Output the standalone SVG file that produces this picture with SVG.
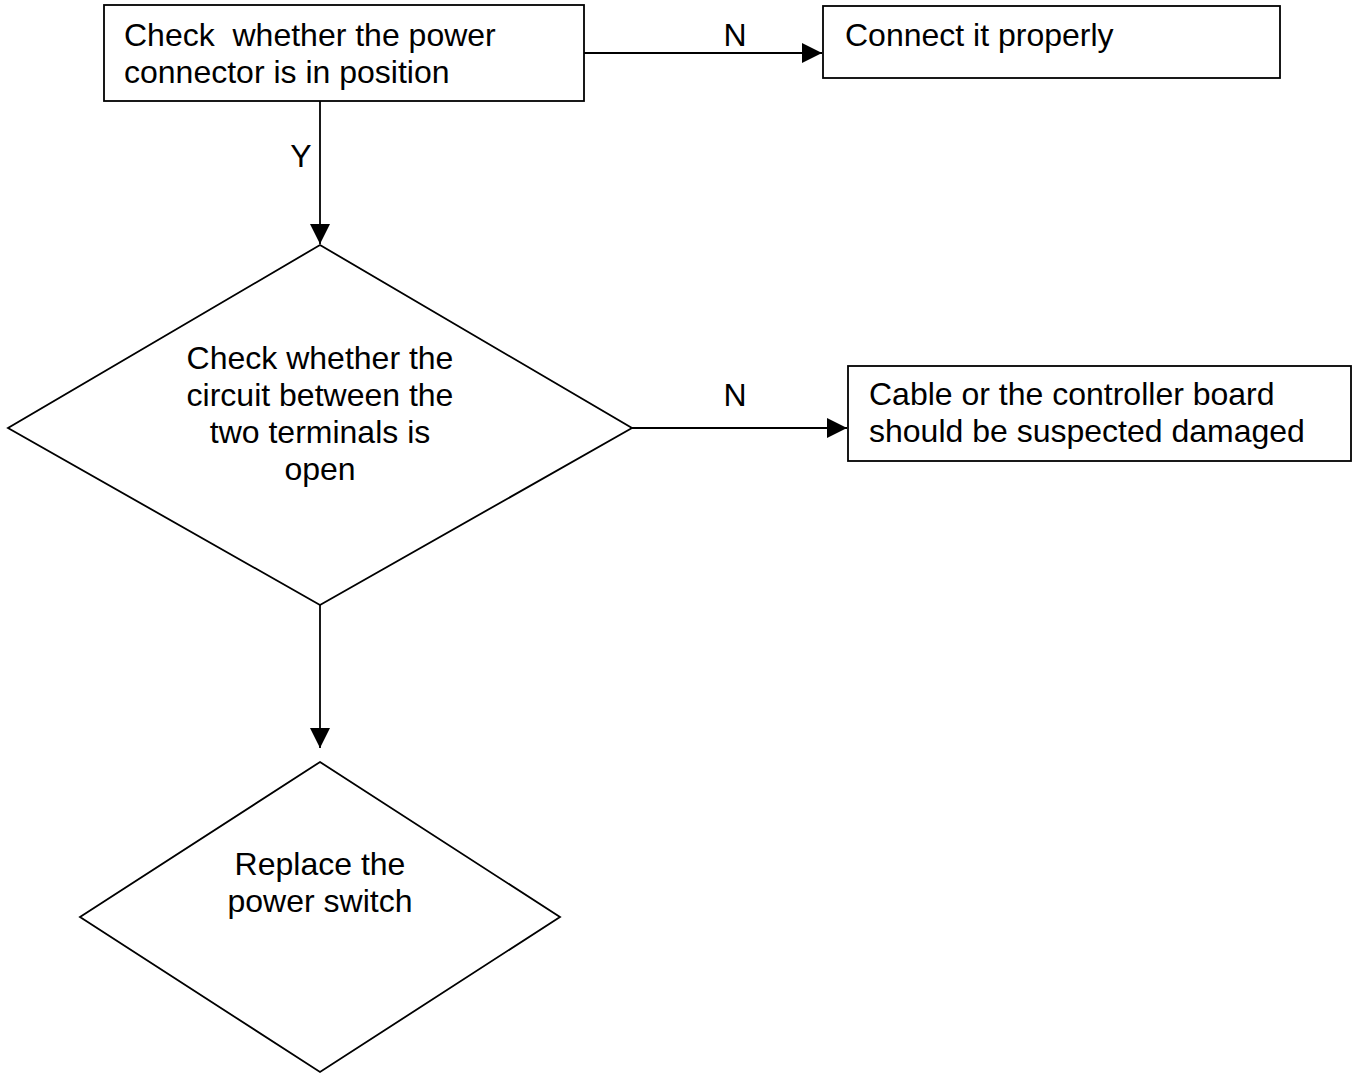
<svg xmlns="http://www.w3.org/2000/svg" width="1354" height="1074" viewBox="0 0 1354 1074">
<style>
.shape{fill:#fff;stroke:#000;stroke-width:1.8}
.t{font-family:"Liberation Sans",Arial,sans-serif;font-size:32px;fill:#000}
.c{text-anchor:middle}
.edge{stroke:#000;stroke-width:1.8;fill:none}
</style>
<defs>
<marker id="arr" viewBox="0 0 20 20" refX="20" refY="10" markerWidth="20" markerHeight="20" markerUnits="userSpaceOnUse" orient="auto">
<path d="M0,0 L20,10 L0,20 z" fill="#000"/>
</marker>
</defs>
<rect width="1354" height="1074" fill="#fff"/>
<g id="connectors">
<line class="edge" x1="584" y1="53" x2="822" y2="53" marker-end="url(#arr)"/>
<line class="edge" x1="320" y1="101" x2="320" y2="244" marker-end="url(#arr)"/>
<line class="edge" x1="632" y1="428" x2="847" y2="428" marker-end="url(#arr)"/>
<line class="edge" x1="320" y1="605" x2="320" y2="748" marker-end="url(#arr)"/>
<text class="t c" x="735" y="46">N</text>
<text class="t c" x="301" y="167">Y</text>
<text class="t c" x="735" y="406">N</text>
</g>
<g id="n1">
<rect class="shape" x="104" y="5" width="480" height="96"/>
<text class="t" x="124" y="46" xml:space="preserve">Check  whether the power</text>
<text class="t" x="124" y="83">connector is in position</text>
</g>
<g id="n2">
<rect class="shape" x="823" y="6" width="457" height="72"/>
<text class="t" x="845" y="46">Connect it properly</text>
</g>
<g id="n3">
<polygon class="shape" points="320,245 632,428 320,605 8,428"/>
<text class="t c" x="320" y="369">Check whether the</text>
<text class="t c" x="320" y="406">circuit between the</text>
<text class="t c" x="320" y="443">two terminals is</text>
<text class="t c" x="320" y="480">open</text>
</g>
<g id="n4">
<rect class="shape" x="848" y="366" width="503" height="95"/>
<text class="t" x="869" y="405">Cable or the controller board</text>
<text class="t" x="869" y="442">should be suspected damaged</text>
</g>
<g id="n5">
<polygon class="shape" points="320,762 560,917 320,1072 80,917"/>
<text class="t c" x="320" y="875">Replace the</text>
<text class="t c" x="320" y="912">power switch</text>
</g>
</svg>
